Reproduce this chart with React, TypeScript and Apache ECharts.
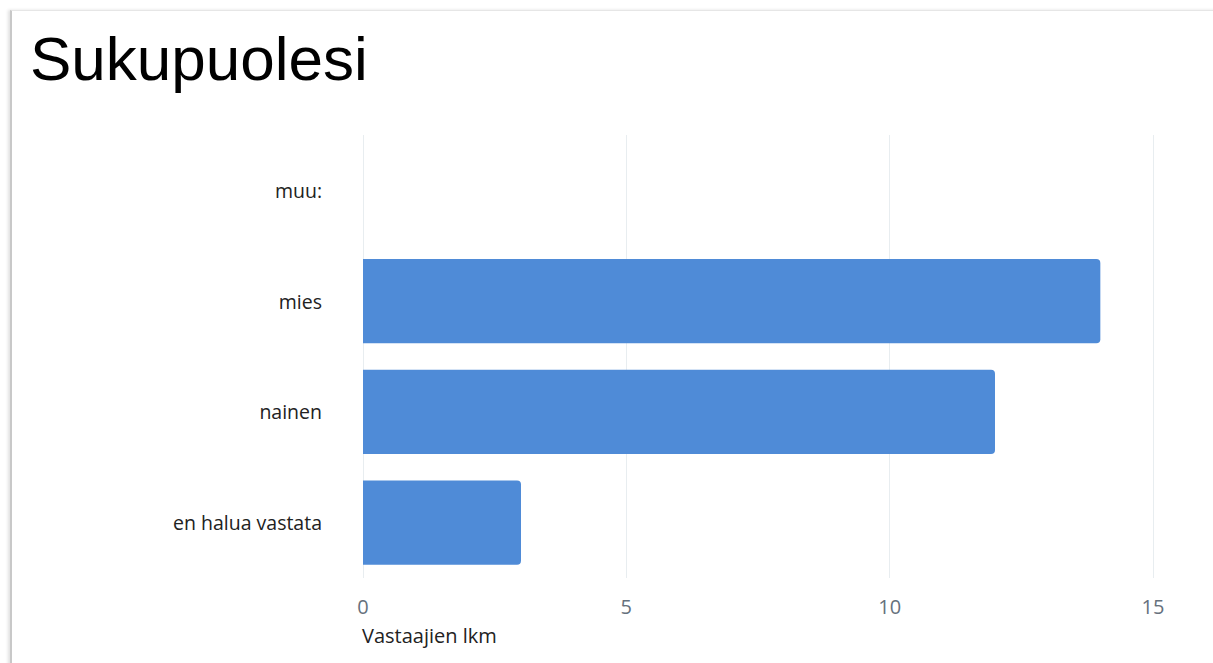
import React, { useEffect, useRef } from "react";
import * as echarts from "echarts";

const title = "Sukupuolesi";
const categories = ["en halua vastata", "nainen", "mies", "muu:"];
const values = [3, 12, 14, 0];
const xTicks = { min: 0, max: 15, interval: 5 };
const xAxisName = "Vastaajien lkm";

export default function App() {
  const ref = useRef<HTMLDivElement>(null);
  useEffect(() => {
    const chart = echarts.init(ref.current!, null, { renderer: "svg" });
    chart.setOption({
      animation: false,
      backgroundColor: "transparent",
      title: {
        text: title,
        left: 25,
        top: 22,
        textStyle: {
          fontFamily: "Liberation Sans, Arial, sans-serif",
          fontSize: 62,
          fontWeight: "normal",
          color: "#000",
        },
      },
      grid: { left: 363, right: 60, top: 135, bottom: 85, containLabel: false },
      xAxis: {
        type: "value",
        min: xTicks.min,
        max: xTicks.max,
        interval: xTicks.interval,
        axisLine: { show: false },
        axisTick: { show: false },
        splitLine: { show: true, lineStyle: { color: "#e8edf0", width: 1 } },
        axisLabel: {
          margin: 18,
          fontFamily: "Open Sans, sans-serif",
          fontSize: 20,
          color: "#66717d",
        },
      },
      yAxis: {
        type: "category",
        data: categories,
        axisLine: { show: false },
        axisTick: { show: false },
        splitLine: { show: false },
        axisLabel: {
          margin: 41,
          fontFamily: "Open Sans, sans-serif",
          fontSize: 19.5,
          color: "#222",
        },
      },
      series: [
        {
          type: "bar",
          data: values,
          barCategoryGap: "24%",
          itemStyle: { color: "#4f8bd7", borderRadius: [0, 4, 4, 0] },
        },
      ],
      graphic: [
        {
          type: "text",
          left: 362,
          top: 625,
          style: {
            text: xAxisName,
            fontFamily: "Open Sans, sans-serif",
            fontSize: 20,
            fill: "#222",
          },
        },
      ],
    });
    return () => chart.dispose();
  }, []);
  return (
    <div style={{ position: "absolute", left: 0, top: 0, width: 1213, height: 663, background: "#fff", overflow: "hidden" }}>
      <div
        style={{
          position: "absolute",
          left: 10,
          top: 10,
          width: 1220,
          height: 700,
          borderLeft: "2px solid #c8c8c8",
          borderTop: "1px solid #e6e6e6",
          boxShadow: "-2px 0 3px rgba(0,0,0,0.12)",
          background: "#fff",
        }}
      />
      <div ref={ref} style={{ position: "absolute", left: 0, top: 0, width: 1213, height: 663 }} />
    </div>
  );
}
